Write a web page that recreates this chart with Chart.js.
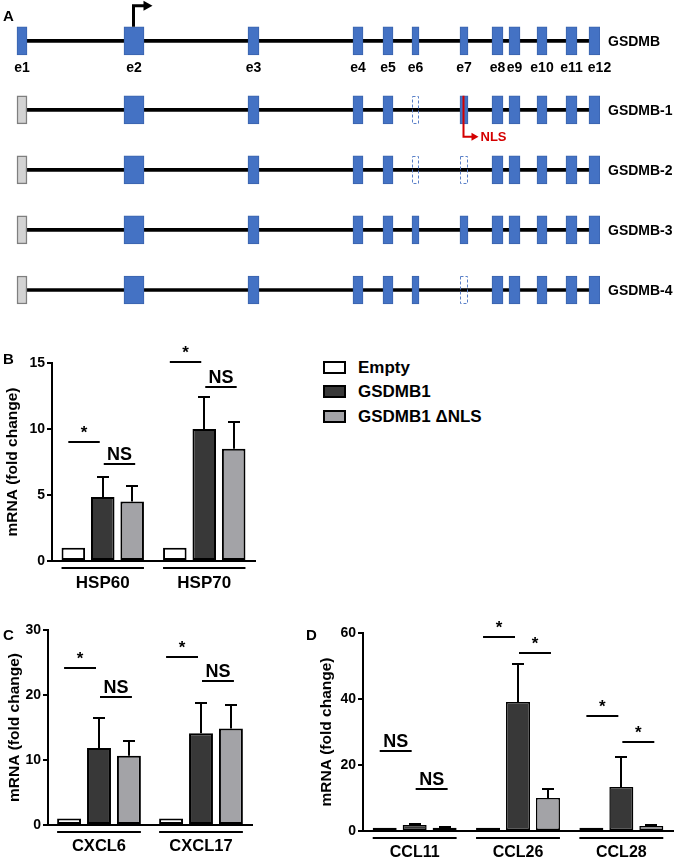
<!DOCTYPE html>
<html><head><meta charset="utf-8">
<script src="https://cdn.jsdelivr.net/npm/chart.js@4.4.1/dist/chart.umd.min.js"></script>
<style>
body{margin:0;background:#fff;width:677px;height:861px;position:relative;overflow:hidden;font-family:"Liberation Sans",Arial,sans-serif;}
canvas{position:absolute;}
.pl{position:absolute;font-weight:bold;font-size:15px;line-height:15px;color:#000;}
.lb{position:absolute;left:323px;width:23px;height:13px;box-sizing:border-box;border:2px solid #000;}
.lt{position:absolute;left:358px;font-weight:bold;font-size:17px;line-height:20px;color:#000;white-space:nowrap;}
</style></head><body>
<canvas id="cA" width="677" height="320" style="left:0;top:0"></canvas>
<canvas id="cB" width="300" height="270" style="left:0;top:330px"></canvas>
<canvas id="cC" width="300" height="261" style="left:0;top:600px"></canvas>
<canvas id="cD" width="363" height="261" style="left:314px;top:600px"></canvas>
<div class="pl" style="left:3px;top:8px">A</div>
<div class="pl" style="left:3px;top:351px">B</div>
<div class="pl" style="left:3px;top:627px">C</div>
<div class="pl" style="left:306px;top:627px">D</div>
<div id="legend"></div>
<script>
const FONT = 'Liberation Sans, Arial, sans-serif';

// ---------- Panel A data ----------
const exonNames = ['e1','e2','e3','e4','e5','e6','e7','e8','e9','e10','e11','e12'];
const exonStart = [17,124,248,353,383,412,460,492,509,537,566,589];
const exonEnd   = [27,144,259,363,393,419,468,503,520,547,577,600];
const isoforms  = ['GSDMB','GSDMB-1','GSDMB-2','GSDMB-3','GSDMB-4'];
// c = coding exon, u = non-coding first exon, s = skipped exon
const isoStatus = ['cccccccccccc','uccccscccccc','uccccssccccc','uccccccccccc','ucccccsccccc'];
const nlsIsoform = 1, nlsExon = 6, tssExon = 1;

// ---------- Bar panels data ----------
const seriesNames = ['Empty','GSDMB1','GSDMB1 \u0394NLS'];
const seriesFill  = ['#ffffff','#383838','#a3a3a7'];

const catsB = ['HSP60','HSP70'];
const emptyB = [1,1];
const gsdmbB = [4.85,10.0];
const dnlsB  = [4.5,8.5];
const errGsdmbB = [6.4,12.45];
const errDnlsB  = [5.65,10.55];
const sigLevelB = [[9.0,7.35],[15.1,13.2]];
const sigLabelB = [['*','NS'],['*','NS']];
const ticksB = [0,5,10,15];

const catsC = ['CXCL6','CXCL17'];
const emptyC = [1,1];
const gsdmbC = [11.85,14.1];
const dnlsC  = [10.65,14.85];
const errGsdmbC = [16.5,18.8];
const errDnlsC  = [13.0,18.5];
const sigLevelC = [[24.2,19.7],[25.9,22.2]];
const sigLabelC = [['*','NS'],['*','NS']];
const ticksC = [0,10,20,30];

const catsD = ['CCL11','CCL26','CCL28'];
const emptyD = [1,1,1];
const gsdmbD = [1.8,39.1,13.3];
const dnlsD  = [1.0,10.0,1.5];
const errGsdmbD = [2.0,50.5,22.3];
const errDnlsD  = [1.1,12.6,1.8];
const sigLevelD = [[24.2,12.7],[58.8,53.9],[34.8,27.0]];
const sigLabelD = [['NS','NS'],['*','*'],['*','*']];
const ticksD = [0,20,40,60];

// ---------- Legend (HTML) ----------
(function(){
  const lg = document.getElementById('legend');
  const boxTop = [361,385,410];
  seriesNames.forEach((n,i)=>{
    const b = document.createElement('div'); b.className='lb'; b.style.top=boxTop[i]+'px'; b.style.background=seriesFill[i]; lg.appendChild(b);
    const t = document.createElement('div'); t.className='lt'; t.style.top=(boxTop[i]-3)+'px'; t.textContent=n; lg.appendChild(t);
  });
})();

// ---------- Panel A chart ----------
const rowPos = isoforms.map((_, i) => i === 0 ? 0 : i + 0.15);
function exonData(code){
  const out = [];
  isoStatus.forEach((st, r) => { for (let k = 0; k < exonNames.length; k++) if (st[k] === code) out.push({x:[exonStart[k], exonEnd[k]], y: rowPos[r]}); });
  return out;
}
const intronData = isoforms.map((_, r) => ({x:[(exonStart[0]+exonEnd[0])/2, (exonStart[11]+exonEnd[11])/2], y: rowPos[r]}));

const geneAnnot = {
  id: 'geneAnnot',
  afterDatasetsDraw(chart) {
    const {ctx, chartArea, scales:{x, y}} = chart;
    ctx.save();
    const sk = chart.getDatasetMeta(2);
    ctx.strokeStyle = '#5a80c8'; ctx.lineWidth = 1; ctx.setLineDash([3,2]);
    sk.data.forEach(el => {
      const l = Math.min(el.base, el.x), w = Math.abs(el.x - el.base);
      ctx.strokeRect(Math.round(l)+0.5, Math.round(el.y - el.height/2)+0.5, Math.round(w)-1, Math.round(el.height)-1);
    });
    ctx.setLineDash([]);
    ctx.fillStyle = '#000'; ctx.font = 'bold 14px ' + FONT; ctx.textAlign = 'center'; ctx.textBaseline = 'middle';
    const y0 = y.getPixelForValue(rowPos[0]);
    exonNames.forEach((n, k) => ctx.fillText(n, x.getPixelForValue((exonStart[k]+exonEnd[k])/2) + (k === 11 ? 5 : 0), y0 + 27));
    // isoform names
    ctx.textAlign = 'left';
    isoforms.forEach((n, r) => ctx.fillText(n, chartArea.right + 8, y.getPixelForValue(rowPos[r]) + 1));
    // TSS arrow
    const tx = Math.round(x.getPixelForValue((exonStart[tssExon]+exonEnd[tssExon])/2)) - 0.5, ttop = y0 - 14, ay = ttop - 21;
    ctx.strokeStyle = '#000'; ctx.lineWidth = 3;
    ctx.beginPath(); ctx.moveTo(tx, ttop); ctx.lineTo(tx, ay); ctx.lineTo(tx + 11, ay); ctx.stroke();
    ctx.beginPath(); ctx.moveTo(tx + 19, ay); ctx.lineTo(tx + 10, ay - 5); ctx.lineTo(tx + 10, ay + 5); ctx.closePath(); ctx.fill();
    // NLS arrow
    const nx = x.getPixelForValue((exonStart[nlsExon]+exonEnd[nlsExon])/2) - 0.5;
    const ny = y.getPixelForValue(rowPos[nlsIsoform]);
    const nb = ny + 27;
    ctx.strokeStyle = '#d40000'; ctx.fillStyle = '#d40000'; ctx.lineWidth = 2;
    ctx.beginPath(); ctx.moveTo(nx, ny - 14); ctx.lineTo(nx, nb); ctx.lineTo(nx + 9, nb); ctx.stroke();
    ctx.beginPath(); ctx.moveTo(nx + 15, nb); ctx.lineTo(nx + 8, nb - 4); ctx.lineTo(nx + 8, nb + 4); ctx.closePath(); ctx.fill();
    ctx.font = 'bold 13px ' + FONT; ctx.textAlign = 'left';
    ctx.fillText('NLS', nx + 17, nb + 1);
    ctx.restore();
  }
};

new Chart(document.getElementById('cA'), {
  type: 'bar',
  data: { datasets: [
    { data: exonData('c'), backgroundColor: '#4472c4', borderColor: '#3a63ad', borderWidth: 1, barThickness: 28 },
    { data: exonData('u'), backgroundColor: '#d3d3d3', borderColor: '#7f7f7f', borderWidth: 1.5, barThickness: 28 },
    { data: exonData('s'), backgroundColor: 'rgba(0,0,0,0)', borderWidth: 0, barThickness: 28 },
    { data: intronData, backgroundColor: '#000', borderWidth: 0, barThickness: 3 }
  ]},
  options: {
    indexAxis: 'y', responsive: false, animation: false,
    layout: { padding: { left: 0, top: 0, bottom: 0, right: 77 } },
    datasets: { bar: { grouped: false, borderSkipped: false } },
    plugins: { legend: { display: false }, tooltip: { enabled: false } },
    scales: {
      x: { type: 'linear', min: 0, max: 600, display: false, offset: false },
      y: { type: 'linear', reverse: true, min: -0.68, max: 4.65, offset: false, display: false }
    }
  },
  plugins: [geneAnnot]
});

// ---------- Bar panels ----------
const barExtras = {
  id: 'barExtras',
  afterDatasetsDraw(chart, args, opts) {
    const {ctx, chartArea, scales:{y}} = chart;
    ctx.save();
    ctx.strokeStyle = '#000'; ctx.fillStyle = '#000'; ctx.lineWidth = 2;
    chart.data.datasets.forEach((ds, di) => {
      if (!ds.err) return;
      const meta = chart.getDatasetMeta(di);
      meta.data.forEach((el, j) => {
        const top = y.getPixelForValue(ds.data[j]), ye = Math.round(y.getPixelForValue(ds.err[j]));
        const cx = Math.round(el.x);
        ctx.beginPath(); ctx.moveTo(cx, top); ctx.lineTo(cx, ye); ctx.moveTo(cx - 6, ye); ctx.lineTo(cx + 6, ye); ctx.stroke();
      });
    });
    const m = [0,1,2].map(i => chart.getDatasetMeta(i));
    const uy = Math.round(chartArea.bottom + 7);
    m[0].data.forEach((el, j) => {
      const l = el.x - el.width/2, r = m[2].data[j].x + m[2].data[j].width/2;
      ctx.beginPath(); ctx.moveTo(l, uy); ctx.lineTo(r, uy); ctx.stroke();
    });
    ctx.textAlign = 'center'; ctx.textBaseline = 'alphabetic';
    opts.levels.forEach((pair, j) => pair.forEach((lv, k) => {
      const a = m[k].data[j], b = m[k+1].data[j];
      const shift = k === 0 ? -5 : 1;
      const x1 = a.x + shift, x2 = b.x + shift + 2;
      const ly = Math.round(y.getPixelForValue(lv));
      ctx.beginPath(); ctx.moveTo(x1, ly); ctx.lineTo(x2, ly); ctx.stroke();
      const lab = opts.labels[j][k];
      ctx.font = (lab === 'NS' ? 'bold 18px ' : 'bold 17px ') + FONT;
      ctx.fillText(lab, (x1 + x2)/2, ly - 4);
    }));
    ctx.restore();
  }
};

function makeBarChart(id, cats, empty, gsdmb, dnls, errG, errN, ticks, levels, labels, L) {
  new Chart(document.getElementById(id), {
    type: 'bar',
    data: { labels: cats, datasets: [
      { label: seriesNames[0], data: empty, backgroundColor: seriesFill[0] },
      { label: seriesNames[1], data: gsdmb, err: errG, backgroundColor: seriesFill[1] },
      { label: seriesNames[2], data: dnls, err: errN, backgroundColor: seriesFill[2] }
    ]},
    options: {
      responsive: false, animation: false,
      layout: { padding: { top: L.top, right: L.right, left: 0, bottom: 0 } },
      datasets: { bar: { borderColor: '#000', borderWidth: L.bw, borderSkipped: false, categoryPercentage: L.cat, barPercentage: 0.8 } },
      plugins: { legend: { display: false }, tooltip: { enabled: false }, barExtras: { levels, labels } },
      scales: {
        x: { type: 'category', offset: true,
          grid: { display: false, drawTicks: false }, border: { display: true, color: '#000', width: 2 },
          ticks: { color: '#000', padding: L.xpad, maxRotation: 0, autoSkip: false, font: { family: FONT, size: L.xfont, weight: 'bold' } },
          afterFit(s) { s.height = L.xh; } },
        y: { type: 'linear', min: ticks[0], max: ticks[ticks.length-1],
          afterBuildTicks(s) { s.ticks = ticks.map(v => ({ value: v })); },
          afterFit(s) { s.width = L.yw; },
          ticks: { color: '#000', padding: 2, font: { family: FONT, size: 14, weight: 'bold' } },
          grid: { display: true, drawOnChartArea: false, drawTicks: true, tickLength: 5, color: '#000', lineWidth: 2 },
          border: { display: true, color: '#000', width: 2 },
          title: { display: true, text: 'mRNA (fold change)', color: '#000', padding: { top: L.tpad, bottom: 0 }, font: { family: FONT, size: 15.5, weight: 'bold' } } }
      }
    },
    plugins: [barExtras]
  });
}

makeBarChart('cB', catsB, emptyB, gsdmbB, dnlsB, errGsdmbB, errDnlsB, ticksB, sigLevelB, sigLabelB,
  { top: 33, right: 45, yw: 52, xh: 39, cat: 0.87, xpad: 12, xfont: 17, tpad: 3, bw: 2 });
makeBarChart('cC', catsC, emptyC, gsdmbC, dnlsC, errGsdmbC, errDnlsC, ticksC, sigLevelC, sigLabelC,
  { top: 30, right: 48, yw: 48, xh: 36, cat: 0.88, xpad: 12, xfont: 16.5, tpad: 5, bw: 2 });
makeBarChart('cD', catsD, emptyD, gsdmbD, dnlsD, errGsdmbD, errDnlsD, ticksD, sigLevelD, sigLabelD,
  { top: 33, right: 4, yw: 49, xh: 30, cat: 0.87, xpad: 12, xfont: 16, tpad: 3, bw: 1.5 });
</script>
</body></html>
